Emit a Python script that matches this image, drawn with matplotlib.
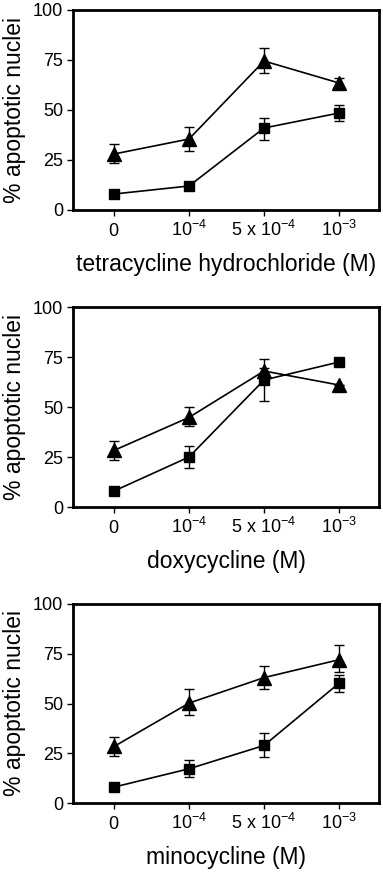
import matplotlib
matplotlib.use("Agg")
import matplotlib.pyplot as plt
import numpy as np

plt.rcParams['font.family'] = ['Liberation Sans', 'DejaVu Sans']
plt.rcParams['mathtext.fontset'] = 'custom'
plt.rcParams['mathtext.rm'] = 'Liberation Sans'
plt.rcParams['mathtext.it'] = 'Liberation Sans'

categories = [r'$\mathregular{0}$', r'$\mathregular{10^{-4}}$',
              r'$\mathregular{5\ x\ 10^{-4}}$', r'$\mathregular{10^{-3}}$']
y_ticks = [0, 25, 50, 75, 100]
xlabels = ['tetracycline hydrochloride (M)', 'doxycycline (M)', 'minocycline (M)']
ylabel = '% apoptotic nuclei'

# panel 1: tetracycline hydrochloride
tri1 = [28, 35.5, 74.5, 63.5]
tri1_lo = [4.7, 5.8, 6.2, 2.5]
tri1_hi = [5.0, 6.2, 6.3, 2.3]
sq1 = [8, 12, 41, 48.5]
sq1_lo = [0, 0, 5.8, 4.2]
sq1_hi = [0, 0, 5.2, 4.0]

# panel 2: doxycycline
tri2 = [28.3, 44.8, 68, 61]
tri2_lo = [5.0, 4.5, 5.5, 0]
tri2_hi = [4.8, 5.2, 6.0, 0]
sq2 = [8, 25, 63.5, 72.5]
sq2_lo = [0, 5.5, 10.5, 0]
sq2_hi = [0, 5.3, 6.2, 0]

# panel 3: minocycline
tri3 = [28.4, 50.2, 63, 72]
tri3_lo = [4.8, 6.0, 5.6, 6.0]
tri3_hi = [5.0, 7.0, 5.9, 7.3]
sq3 = [8, 17.2, 28.9, 60.2]
sq3_lo = [0, 4.3, 6.0, 4.2]
sq3_hi = [0, 4.5, 6.2, 4.3]

panels = [
    (tri1, tri1_lo, tri1_hi, sq1, sq1_lo, sq1_hi),
    (tri2, tri2_lo, tri2_hi, sq2, sq2_lo, sq2_hi),
    (tri3, tri3_lo, tri3_hi, sq3, sq3_lo, sq3_hi),
]

W, H = 383, 876
fig = plt.figure(figsize=(W / 100, H / 100), dpi=100)

# axes boxes in pixels: (left, top, right, bottom)
boxes = [(73, 10, 379, 210), (73, 307, 379, 507), (73, 604, 379, 803)]

x = np.arange(len(categories))
for (l, t, r, b), (tri, tl, th, sq, sl, sh), xl in zip(boxes, panels, xlabels):
    ax = fig.add_axes([l / W, 1 - b / H, (r - l) / W, (b - t) / H])
    ax.errorbar(x, sq, yerr=[sl, sh], color='black', marker='s', markersize=7.5,
                linewidth=1.2, elinewidth=1.0, capsize=3.5, capthick=1.0, zorder=3)
    ax.errorbar(x, tri, yerr=[tl, th], color='black', marker='^', markersize=9.5,
                linewidth=1.2, elinewidth=1.0, capsize=3.5, capthick=1.0, zorder=4)
    ax.set_xlim(-0.547, 3.533)
    ax.set_ylim(0, 100)
    ax.set_xticks(x)
    ax.set_xticklabels(categories)
    ax.set_yticks(y_ticks)
    ax.tick_params(axis='both', direction='out', length=4, width=1.0, labelsize=13, pad=3)
    ax.tick_params(axis='x', pad=15)
    for lbl in ax.get_xticklabels():
        lbl.set_verticalalignment('baseline')
    for s in ax.spines.values():
        s.set_linewidth(2.0)
    ax.set_xlabel(xl, fontsize=16.5, labelpad=9)
    ax.set_ylabel(ylabel, fontsize=16.5, labelpad=5)

fig.savefig('out.png', dpi=100)
